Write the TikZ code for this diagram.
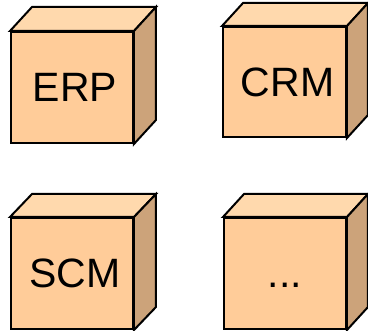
\documentclass[tikz,border=0pt]{standalone}
\usepackage{fontspec}
\setmainfont{Liberation Sans}
\usetikzlibrary{calc}

\definecolor{cubefront}{HTML}{FFCC99}
\definecolor{cubetop}{HTML}{FFD9AD}
\definecolor{cubeside}{HTML}{CCA37A}

\tikzset{
  cubefront/.style={draw=black, fill=cubefront, line width=2pt, rectangle,
    inner sep=0pt, font=\fontsize{41}{41}\selectfont},
  cubeface/.style={draw=black, line width=2pt, line join=miter},
}

% top and side faces of a cube whose front face is node #1, depth (#2,#3)
\newcommand\cubefaces[3]{%
  \draw[cubeface, fill=cubetop] (#1.north west) -- ++(#2,#3)
    -- ($(#1.north east)+(#2,#3)$) -- (#1.north east) -- cycle;
  \draw[cubeface, fill=cubeside] (#1.north east) -- ++(#2,#3)
    -- ($(#1.south east)+(#2,#3)$) -- (#1.south east) -- cycle;
}

\begin{document}
\begin{tikzpicture}[x=1pt, y=-1pt]
  \useasboundingbox (0,0) rectangle (368,331);

  \node[cubefront, minimum width=122pt, minimum height=111pt] (erp) at (72,87.5) {\hspace{6pt}ERP};
  \cubefaces{erp}{22}{-24}

  \node[cubefront, minimum width=123pt, minimum height=110pt] (crm) at (284.5,82) {\hspace{6pt}CRM};
  \cubefaces{crm}{21}{-23}

  \node[cubefront, minimum width=122pt, minimum height=111pt] (scm) at (72,273.5) {\hspace{6pt}SCM};
  \cubefaces{scm}{22}{-23}

  \node[cubefront, minimum width=122pt, minimum height=111pt] (more) at (285,273.5) {\vphantom{E}...};
  \cubefaces{more}{21}{-23}
\end{tikzpicture}
\end{document}
